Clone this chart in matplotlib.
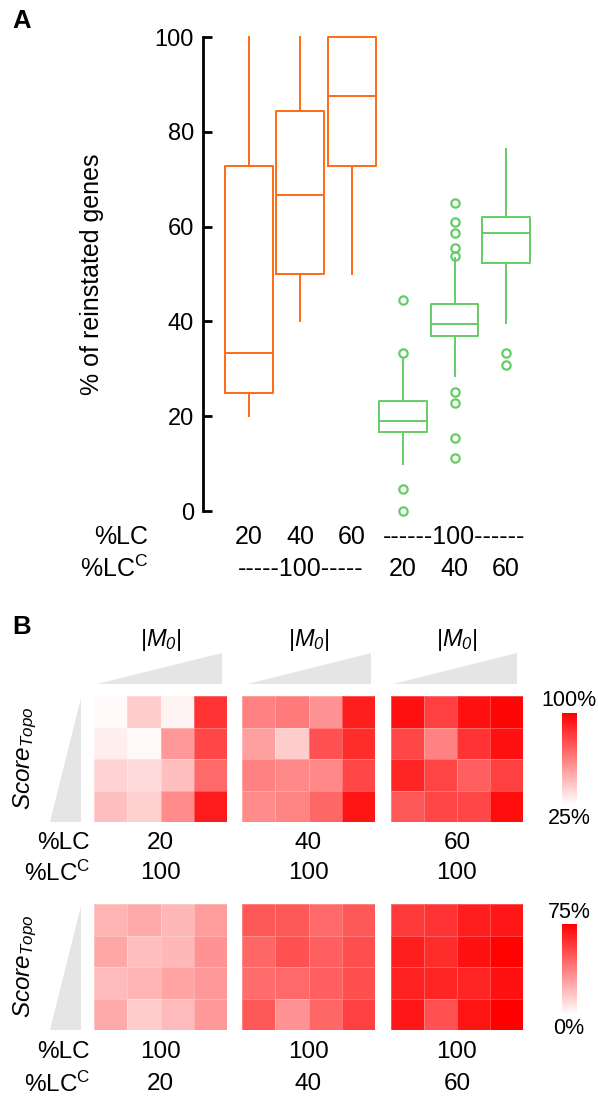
import matplotlib
matplotlib.use("Agg")
import matplotlib.pyplot as plt
from matplotlib.colors import LinearSegmentedColormap, Normalize
from matplotlib.cm import ScalarMappable
from matplotlib.patches import Polygon
from matplotlib.transforms import blended_transform_factory

plt.rcParams['font.family'] = ['Liberation Sans', 'DejaVu Sans']
plt.rcParams['mathtext.fontset'] = 'custom'
plt.rcParams['mathtext.rm'] = 'Liberation Sans'
plt.rcParams['mathtext.it'] = 'Liberation Sans:italic'
plt.rcParams['mathtext.sf'] = 'Liberation Sans:italic'
plt.rcParams['mathtext.bf'] = 'Liberation Sans:bold'

# ---------------- Panel A data ----------------
box_labels = ["LC20", "LC40", "LC60", "LCC20", "LCC40", "LCC60"]
box_colors = ["#ff6a13", "#ff6a13", "#ff6a13", "#66cc66", "#66cc66", "#66cc66"]
whis_lo = [20.0, 40.0, 50.0, 10.0, 28.5, 39.6]
q1 = [25.0, 50.0, 72.7, 16.7, 36.9, 52.3]
med = [33.3, 66.7, 87.5, 19.0, 39.5, 58.6]
q3 = [72.7, 84.4, 100.0, 23.2, 43.7, 62.0]
whis_hi = [100.0, 100.0, 100.0, 32.0, 53.3, 76.4]
fliers = [[], [], [],
          [0.0, 4.6, 33.3, 44.5],
          [11.2, 15.4, 22.8, 25.1, 53.8, 55.5, 58.6, 61.0, 65.0],
          [30.8, 33.3]]
yticks = [0, 20, 40, 60, 80, 100]
row1_labels = ["20", "40", "60", "------100------"]
row2_labels = ["-----100-----", "20", "40", "60"]

# ---------------- Panel B data ----------------
top_lc20 = [[27, 40, 29, 85], [30, 27, 55, 79], [38, 36, 44, 69], [44, 39, 59, 92]]
top_lc40 = [[62, 64, 57, 91], [53, 40, 76, 87], [62, 60, 60, 79], [59, 61, 70, 94]]
top_lc60 = [[95, 81, 95, 98], [79, 62, 85, 95], [89, 80, 72, 81], [74, 79, 79, 96]]
bot_lcc20 = [[22, 25, 21, 29], [26, 19, 21, 32], [20, 22, 27, 30], [25, 15, 20, 30]]
bot_lcc40 = [[49, 49, 44, 49], [45, 51, 47, 52], [43, 44, 47, 52], [49, 32, 45, 56]]
bot_lcc60 = [[58, 60, 66, 68], [66, 62, 70, 74], [65, 64, 64, 70], [68, 51, 69, 75]]
top_lc_labels = ["20", "40", "60"]
top_lcc_labels = ["100", "100", "100"]
bot_lc_labels = ["100", "100", "100"]
bot_lcc_labels = ["20", "40", "60"]
top_range = (25, 100)
bot_range = (0, 75)

W, H = 598, 1096
fig = plt.figure(figsize=(W / 100, H / 100), dpi=100)


def rect(x0, y0, x1, y1):
    return [x0 / W, 1 - y1 / H, (x1 - x0) / W, (y1 - y0) / H]


def ft(x, y, s, **kw):
    return fig.text(x / W, 1 - y / H, s, **kw)


# overlay for decorative triangles
axO = fig.add_axes([0, 0, 1, 1], zorder=0)
axO.set_xlim(0, W)
axO.set_ylim(H, 0)
axO.axis('off')

# ---------------- Panel A ----------------
axA = fig.add_axes(rect(203, 37, 545, 511), zorder=2)
axA.patch.set_alpha(0)
positions = [1, 2, 3, 4, 5, 6]
for i in range(6):
    st = [dict(med=med[i], q1=q1[i], q3=q3[i], whislo=whis_lo[i], whishi=whis_hi[i],
               fliers=fliers[i], label=box_labels[i])]
    c = box_colors[i]
    art = axA.bxp(st, positions=[positions[i]], widths=0.93, showcaps=False,
                  boxprops=dict(color=c, linewidth=1.4),
                  whiskerprops=dict(color=c, linewidth=1.4),
                  medianprops=dict(color=c, linewidth=1.4),
                  flierprops=dict(marker='o', markerfacecolor='none', markeredgecolor=c,
                                  markersize=6, markeredgewidth=1.6),
                  manage_ticks=False)
    for k in art:
        for a in art[k]:
            a.set_clip_on(False)

axA.set_xlim(0.105, 6.76)
axA.set_ylim(0, 100)
axA.set_yticks(yticks)
axA.tick_params(axis='y', direction='in', length=6.5, width=2, labelsize=17, pad=6.5)
axA.set_xticks([])
for s in ['top', 'right', 'bottom']:
    axA.spines[s].set_visible(False)
axA.spines['left'].set_linewidth(2)
axA.set_ylabel("% of reinstated genes", fontsize=18, labelpad=0)
axA.yaxis.set_label_coords(-0.29, 0.5)

tr = blended_transform_factory(axA.transData, fig.transFigure)
row1_x = [1, 2, 3, 5]
row2_x = [2, 4, 5, 6]
for x, s in zip(row1_x, row1_labels):
    axA.text(x, 1 - 537 / H, s, transform=tr, ha='center', va='center', fontsize=18)
for x, s in zip(row2_x, row2_labels):
    axA.text(x, 1 - 569 / H, s, transform=tr, ha='center', va='center', fontsize=18)
ft(148, 537, "%LC", ha='right', va='center', fontsize=18)
ft(148, 569, r"%LC$^{\mathrm{C}}$", ha='right', va='center', fontsize=18)

ft(12, 21, "A", fontsize=18.5, fontweight='bold', ha='left', va='center')
ft(12, 627, "B", fontsize=18.5, fontweight='bold', ha='left', va='center')

# ---------------- Panel B ----------------
cmap = LinearSegmentedColormap.from_list("wr", ["#ffffff", "#ff0000"])
hm_x = [(94, 227), (242, 375), (391, 523)]
tri_x = [(97, 222), (247, 371), (393, 517)]
rows = [
    dict(y=(696, 822), data=[top_lc20, top_lc40, top_lc60], rng=top_range,
         lc=top_lc_labels, lcc=top_lcc_labels, ly=(843, 873), cb=(713, 805),
         cbl=("100%", 700, "25%", 818), score_y=758),
    dict(y=(904, 1030), data=[bot_lcc20, bot_lcc40, bot_lcc60], rng=bot_range,
         lc=bot_lc_labels, lcc=bot_lcc_labels, ly=(1052, 1084), cb=(924, 1015),
         cbl=("75%", 912, "0%", 1029), score_y=966),
]
grey = "#e5e5e5"
for ri, r in enumerate(rows):
    y0, y1 = r['y']
    vmin, vmax = r['rng']
    for j in range(3):
        x0, x1 = hm_x[j]
        ax = fig.add_axes(rect(x0, y0, x1, y1), zorder=2)
        ax.pcolormesh(r['data'][j], cmap=cmap, vmin=vmin, vmax=vmax,
                      edgecolors=(1, 1, 1, 0.25), linewidth=0.6)
        ax.set_xlim(0, 4)
        ax.set_ylim(4, 0)
        ax.axis('off')
        xc = (x0 + x1) / 2
        ft(xc, r['ly'][0], r['lc'][j], ha='center', va='center', fontsize=17.5)
        ft(xc, r['ly'][1], r['lcc'][j], ha='center', va='center', fontsize=17.5)
        if ri == 0:
            tx0, tx1 = tri_x[j]
            axO.add_patch(Polygon([(tx0, 684), (tx1, 684), (tx1, 653)], closed=True,
                                  facecolor=grey, edgecolor='none'))
            ft(xc, 640, r'$|M_{\mathsf{0}}|$', ha='center', va='center', fontsize=17)
    # left triangle
    axO.add_patch(Polygon([(50, y1), (81, y1), (81, y0 + 2)], closed=True,
                          facecolor=grey, edgecolor='none'))
    ft(25, r['score_y'], r'$\mathit{Score}_{\mathit{Topo}}$', rotation=90,
       ha='center', va='center', fontsize=17.5)
    ft(90, r['ly'][0], "%LC", ha='right', va='center', fontsize=17.5)
    ft(90, r['ly'][1], r"%LC$^{\mathrm{C}}$", ha='right', va='center', fontsize=17.5)
    # colorbar
    cy0, cy1 = r['cb']
    cax = fig.add_axes(rect(562, cy0, 577, cy1), zorder=2)
    cb = fig.colorbar(ScalarMappable(norm=Normalize(vmin, vmax), cmap=cmap), cax=cax)
    cb.outline.set_visible(False)
    cb.set_ticks([])
    t_hi, y_hi, t_lo, y_lo = r['cbl']
    ft(569, y_hi, t_hi, ha='center', va='center', fontsize=15.5)
    ft(569, y_lo, t_lo, ha='center', va='center', fontsize=15.5)

fig.savefig("out.png", dpi=100)
